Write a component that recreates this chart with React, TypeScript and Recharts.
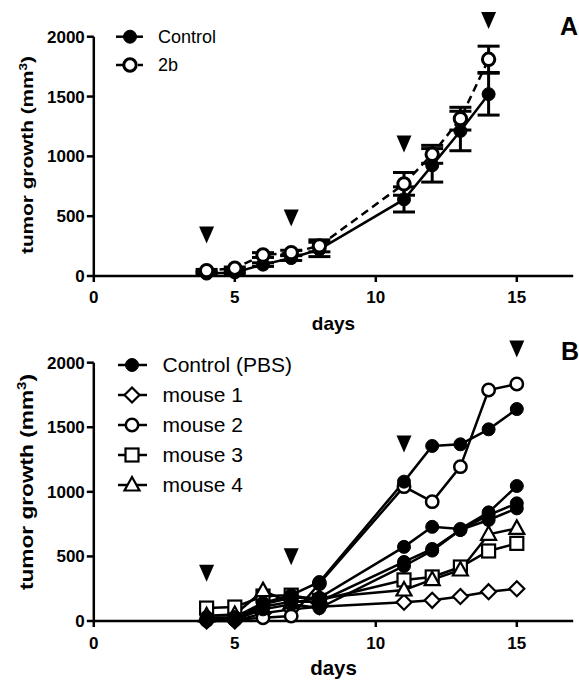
import React from 'react';
import { ComposedChart, Line, Scatter, XAxis, YAxis, ReferenceLine, ErrorBar } from 'recharts';

const FONT = '"Liberation Sans", Arial, Helvetica, sans-serif';

// ---------- Panel A ----------
const daysA = [4, 5, 6, 7, 8, 11, 12, 13, 14];
const controlA = [20, 30, 95, 150, 222, 640, 925, 1212, 1520];
const controlAErr = [10, 10, 15, 20, 60, 105, 140, 165, 175];
const treatedA = [45, 65, 175, 195, 252, 770, 1017, 1315, 1811];
const treatedAErr = [10, 10, 20, 20, 50, 95, 75, 95, 110];
const arrowDaysA = [4, 7, 11, 14];
const arrowLevelsA = [343, 485, 1103, 2135];
const legendA = [
  { name: 'Control', shape: 'filledCircle', dash: undefined as string | undefined },
  { name: '2b', shape: 'openCircle', dash: '8 5' },
];

// ---------- Panel B ----------
const daysB = [4, 5, 6, 7, 8, 11, 12, 13, 14, 15];
const controlB1 = [20, 30, 140, 200, 302, 1079, 1355, 1368, 1484, 1641];
const controlB2 = [30, 25, 130, 180, 180, 574, 729, 713, 841, 1045];
const controlB3 = [10, 20, 110, 150, 150, 457, 558, 705, 820, 911];
const controlB4 = [5, 10, 90, 130, 100, 426, 545, 705, 782, 872];
const mouse1B = [0, 0, 60, 90, 110, 145, 160, 190, 227, 250];
const mouse2B = [5, 10, 25, 38, 290, 1040, 924, 1195, 1788, 1835];
const mouse3B = [100, 108, 193, 200, 160, 318, 341, 418, 542, 601];
const mouse4B = [40, 50, 235, 140, 180, 240, 320, 395, 671, 717];
const arrowDaysB = [4, 7, 11, 15];
const arrowLevelsB = [369, 498, 1370, 2106];
const legendB = [
  { name: 'Control (PBS)', shape: 'filledCircle' },
  { name: 'mouse 1', shape: 'diamond' },
  { name: 'mouse 2', shape: 'openCircle' },
  { name: 'mouse 3', shape: 'square' },
  { name: 'mouse 4', shape: 'triangle' },
];

const xTicks = [0, 5, 10, 15];
const yTicks = [0, 500, 1000, 1500, 2000];

const toPoints = (days: number[], values: number[]) =>
  days.map((d, i) => ({ day: d, value: values[i] }));

const tableA = daysA.map((d, i) => ({
  day: d,
  control: controlA[i],
  controlErr: controlAErr[i],
  treated: treatedA[i],
  treatedErr: treatedAErr[i],
}));
const arrowsA = toPoints(arrowDaysA, arrowLevelsA);
const arrowsB = toPoints(arrowDaysB, arrowLevelsB);

const seriesB = [
  { key: 'm1', values: mouse1B, shape: 'diamond' },
  { key: 'm2', values: mouse2B, shape: 'openCircle' },
  { key: 'm3', values: mouse3B, shape: 'square' },
  { key: 'm4', values: mouse4B, shape: 'triangle' },
  { key: 'c1', values: controlB1, shape: 'filledCircle' },
  { key: 'c2', values: controlB2, shape: 'filledCircle' },
  { key: 'c3', values: controlB3, shape: 'filledCircle' },
  { key: 'c4', values: controlB4, shape: 'filledCircle' },
];

function Marker({ shape, cx, cy, sw = 2.5 }: { shape: string; cx: number; cy: number; sw?: number }) {
  if (cx == null || cy == null || isNaN(cx) || isNaN(cy)) return null;
  switch (shape) {
    case 'filledCircle':
      return <circle cx={cx} cy={cy} r={6.5} fill="#000" stroke="#000" strokeWidth={1} />;
    case 'openCircle':
      return <circle cx={cx} cy={cy} r={6.2} fill="#fff" stroke="#000" strokeWidth={sw} />;
    case 'diamond':
      return (
        <polygon
          points={`${cx},${cy - 7.5} ${cx + 7.5},${cy} ${cx},${cy + 7.5} ${cx - 7.5},${cy}`}
          fill="#fff"
          stroke="#000"
          strokeWidth={2.2}
        />
      );
    case 'square':
      return <rect x={cx - 6.5} y={cy - 6.5} width={13} height={13} fill="#fff" stroke="#000" strokeWidth={2.2} />;
    case 'triangle':
      return (
        <polygon
          points={`${cx},${cy - 8} ${cx + 7.5},${cy + 5.5} ${cx - 7.5},${cy + 5.5}`}
          fill="#fff"
          stroke="#000"
          strokeWidth={2.2}
        />
      );
    default:
      return null;
  }
}

const arrowShape = (p: any) => {
  const { cx, cy } = p;
  return <polygon points={`${cx - 7.5},${cy - 8.5} ${cx + 7.5},${cy - 8.5} ${cx},${cy + 8.5}`} fill="#000" />;
};

const dotFn = (shape: string, sw = 2.5) => (p: any) =>
  <Marker key={`${shape}-${p.index}-${p.cx}`} shape={shape} cx={p.cx} cy={p.cy} sw={sw} />;

const tickStyle = { fill: '#000', fontSize: 17, fontWeight: 700, fontFamily: FONT };
const axisStroke = { stroke: '#000', strokeWidth: 2.5 };

export default function App() {
  return (
    <div style={{ position: 'absolute', left: 0, top: 0, width: 579, height: 680, background: '#fff' }}>
      {/* Panel A */}
      <div style={{ position: 'absolute', left: 0, top: 0 }}>
        <ComposedChart width={579} height={335} data={tableA} margin={{ top: 6.8, right: 5.8, bottom: 0, left: 0 }}>
          <XAxis
            type="number"
            dataKey="day"
            domain={[0, 17]}
            ticks={xTicks}
            height={59}
            tickSize={6}
            tickMargin={9}
            axisLine={axisStroke}
            tickLine={axisStroke}
            tick={tickStyle}
            label={{ value: 'days', position: 'insideBottom', offset: 5, fill: '#000', fontSize: 19, fontWeight: 700, fontFamily: FONT }}
          />
          <YAxis
            type="number"
            domain={[0, 2250]}
            ticks={yTicks}
            width={93.8}
            axisLine={false}
            tickSize={7}
            tickMargin={2}
            tickLine={axisStroke}
            tick={tickStyle}
          />
          <ReferenceLine segment={[{ x: 0, y: 0 }, { x: 0, y: 2000 }]} stroke="#000" strokeWidth={2.5} />
          <Line
            dataKey="control"
            stroke="#000"
            strokeWidth={2.5}
            dot={dotFn('filledCircle')}
            activeDot={false}
            isAnimationActive={false}
          >
            <ErrorBar dataKey="controlErr" width={11} strokeWidth={3} stroke="#000" direction="y" />
          </Line>
          <Line
            dataKey="treated"
            stroke="#000"
            strokeWidth={2.5}
            strokeDasharray="8 5"
            dot={dotFn('openCircle', 3)}
            activeDot={false}
            isAnimationActive={false}
          >
            <ErrorBar dataKey="treatedErr" width={11} strokeWidth={3} stroke="#000" direction="y" />
          </Line>
          <Scatter data={arrowsA} dataKey="value" shape={arrowShape} isAnimationActive={false} legendType="none" />
        </ComposedChart>
      </div>

      {/* Panel B */}
      <div style={{ position: 'absolute', left: 0, top: 335 }}>
        <ComposedChart width={579} height={345} margin={{ top: 1.83, right: 5.8, bottom: 0, left: 0 }}>
          <XAxis
            type="number"
            dataKey="day"
            domain={[0, 17]}
            ticks={xTicks}
            height={59}
            tickSize={6}
            tickMargin={10}
            axisLine={axisStroke}
            tickLine={axisStroke}
            tick={tickStyle}
            label={{ value: 'days', position: 'insideBottom', offset: 5, fill: '#000', fontSize: 20.5, fontWeight: 700, fontFamily: FONT }}
          />
          <YAxis
            type="number"
            domain={[0, 2200]}
            ticks={yTicks}
            width={93.8}
            axisLine={false}
            tickSize={7}
            tickMargin={2}
            tickLine={axisStroke}
            tick={tickStyle}
          />
          <ReferenceLine segment={[{ x: 0, y: 0 }, { x: 0, y: 2000 }]} stroke="#000" strokeWidth={2.5} />
          {seriesB.map((s) => (
            <Line
              key={s.key}
              data={toPoints(daysB, s.values)}
              dataKey="value"
              stroke="#000"
              strokeWidth={2.5}
              dot={dotFn(s.shape)}
              activeDot={false}
              isAnimationActive={false}
            />
          ))}
          <Scatter data={arrowsB} dataKey="value" shape={arrowShape} isAnimationActive={false} legendType="none" />
        </ComposedChart>
      </div>

      {/* Titles and legends */}
      <svg
        width={579}
        height={680}
        style={{ position: 'absolute', left: 0, top: 0, pointerEvents: 'none' }}
        fontFamily={FONT}
      >
        {/* Y-axis titles */}
        <text
          transform="translate(32.5,254) rotate(-90)"
          textAnchor="start"
          fontSize={17}
          fontWeight={700}
          fill="#000"
          textLength={198}
          lengthAdjust="spacingAndGlyphs"
        >
          tumor growth (mm<tspan baselineShift="super" fontSize={11}>3</tspan>)
        </text>
        <text
          transform="translate(32.5,590) rotate(-90)"
          textAnchor="start"
          fontSize={18}
          fontWeight={700}
          fill="#000"
          textLength={216}
          lengthAdjust="spacingAndGlyphs"
        >
          tumor growth (mm<tspan baselineShift="super" fontSize={12}>3</tspan>)
        </text>

        {/* Panel letters */}
        <text x={578} y={35} textAnchor="end" fontSize={25} fontWeight={700} fill="#000">A</text>
        <text x={579} y={360} textAnchor="end" fontSize={25} fontWeight={700} fill="#000">B</text>

        {/* Legend A */}
        {legendA.map((l, i) => {
          const cy = 36.7 + i * 28.3;
          return (
            <g key={l.name}>
              <line x1={116} x2={143} y1={cy} y2={cy} stroke="#000" strokeWidth={2.5} strokeDasharray={l.dash ? '7 4' : undefined} />
              <Marker shape={l.shape} cx={130} cy={cy} sw={3} />
              <text x={158} y={cy + 6.3} fontSize={18} fill="#000">{l.name}</text>
            </g>
          );
        })}

        {/* Legend B */}
        {legendB.map((l, i) => {
          const cy = 365 + i * 30;
          return (
            <g key={l.name}>
              <line x1={118} x2={147} y1={cy} y2={cy} stroke="#000" strokeWidth={2.5} />
              <Marker shape={l.shape} cx={132} cy={cy} />
              <text x={162.5} y={cy + 7} fontSize={21} fill="#000">{l.name}</text>
            </g>
          );
        })}
      </svg>
    </div>
  );
}
